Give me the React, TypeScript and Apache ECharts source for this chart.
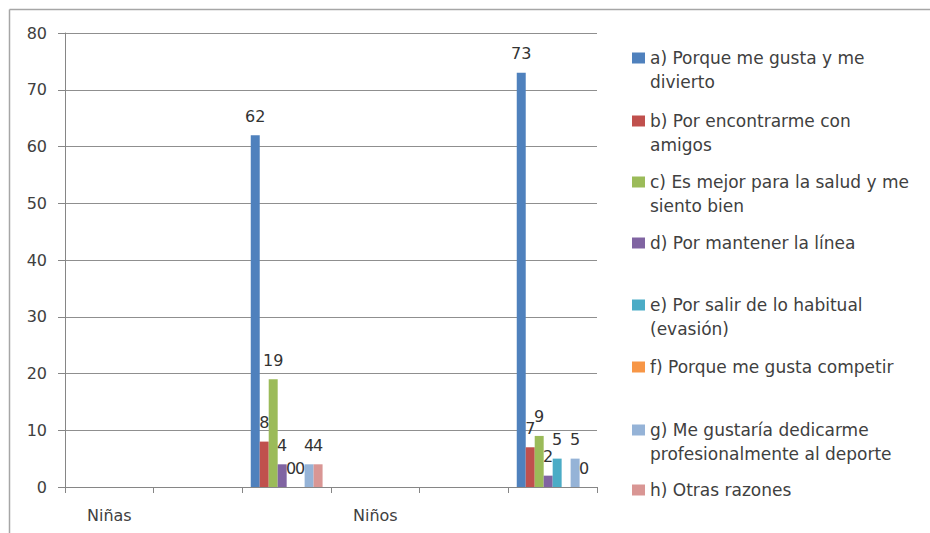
import React, { useEffect, useRef } from "react";
import * as echarts from "echarts";

const categories = ["Niñas", "", "", "Niños", "", ""];
const seriesNames = [
  "a) Porque me gusta y me divierto",
  "b) Por encontrarme con amigos",
  "c) Es mejor para la salud y me siento bien",
  "d) Por mantener la línea",
  "e) Por salir de lo habitual (evasión)",
  "f) Porque me gusta competir",
  "g) Me gustaría dedicarme profesionalmente al deporte",
  "h) Otras razones",
];
const legendLines = [
  ["a) Porque me gusta y me", "divierto"],
  ["b) Por encontrarme con", "amigos"],
  ["c) Es mejor para la salud y me", "siento bien"],
  ["d) Por mantener la línea"],
  ["e) Por salir de lo habitual", "(evasión)"],
  ["f) Porque me gusta competir"],
  ["g) Me gustaría dedicarme", "profesionalmente al deporte"],
  ["h) Otras razones"],
];
// values per series (a..h)
const ninasValues = [62, 8, 19, 4, 0, 0, 4, 4];
const ninosValues = [73, 7, 9, 2, 5, 0, 5, 0];
// category slots in which each group's bars are drawn
const ninasSlot = 2;
const ninosSlot = 5;
// labels not shown in the Niños group (series index)
const ninosHiddenLabels = [5];
const yTicks = { min: 0, max: 80, interval: 10 };

const colors = ["#4F81BD", "#C0504D", "#9BBB59", "#8064A2", "#4BACC6", "#F79646", "#95B3D7", "#D99694"];
const legendCenters = [58, 121, 182, 243, 305, 367, 430, 490];

const FONT = "DejaVu Sans";
const TEXT = "#404040";
const LH = 24;

export default function App() {
  const ref = useRef<HTMLDivElement>(null);
  useEffect(() => {
    if (!ref.current) return;
    const chart = echarts.init(ref.current, null, { renderer: "svg" });
    const series = seriesNames.map((name, k) => ({
      name,
      type: "bar",
      barGap: "0%",
      barCategoryGap: "19%",
      itemStyle: { color: colors[k] },
      label: {
        show: true,
        position: "top",
        distance: 11,
        fontFamily: FONT,
        fontSize: 16,
        color: "#333",
      },
      data: categories.map((_, i) => {
        if (i === ninasSlot) return ninasValues[k];
        if (i === ninosSlot)
          return { value: ninosValues[k], label: { show: !ninosHiddenLabels.includes(k) } };
        return null;
      }),
    }));
    const legends = seriesNames.map((name, k) => {
      const two = legendLines[k].length === 2;
      return {
        data: [name],
        left: 632,
        top: legendCenters[k] - (two ? LH * 1.5 : LH / 2),
        padding: 0,
        icon: "rect",
        itemWidth: 13,
        itemHeight: 11,
        selectedMode: false,
        formatter: () => (two ? " \n" + legendLines[k].join("\n") : legendLines[k][0]),
        textStyle: {
          fontFamily: FONT,
          fontSize: 17,
          color: TEXT,
          lineHeight: LH,
        },
      };
    });
    chart.setOption({
      animation: false,
      backgroundColor: "#fff",
      grid: { left: 65, right: 333, top: 33, bottom: 46, containLabel: false },
      legend: legends,
      xAxis: {
        type: "category",
        data: categories,
        axisLine: { lineStyle: { color: "#868686", width: 1 } },
        axisTick: { show: true, length: 6, interval: 0, lineStyle: { color: "#868686" } },
        axisLabel: { interval: 0, margin: 20, fontFamily: FONT, fontSize: 16, color: TEXT },
      },
      yAxis: {
        type: "value",
        min: yTicks.min,
        max: yTicks.max,
        interval: yTicks.interval,
        axisLine: { show: true, lineStyle: { color: "#868686", width: 1 } },
        axisTick: { show: true, length: 7, lineStyle: { color: "#868686" } },
        axisLabel: { margin: 18, fontFamily: FONT, fontSize: 16, color: TEXT },
        splitLine: { lineStyle: { color: "#8f8f8f", width: 1 } },
      },
      graphic: [
        { type: "line", shape: { x1: 9.5, y1: 9.5, x2: 930, y2: 9.5 }, style: { stroke: "#A6A6A6", lineWidth: 1.5 } },
        { type: "line", shape: { x1: 9.5, y1: 9.5, x2: 9.5, y2: 533 }, style: { stroke: "#A6A6A6", lineWidth: 1.5 } },
      ],
      series,
    });
    return () => chart.dispose();
  }, []);
  return (
    <div
      ref={ref}
      style={{ position: "absolute", left: 0, top: 0, width: 930, height: 533 }}
    />
  );
}
